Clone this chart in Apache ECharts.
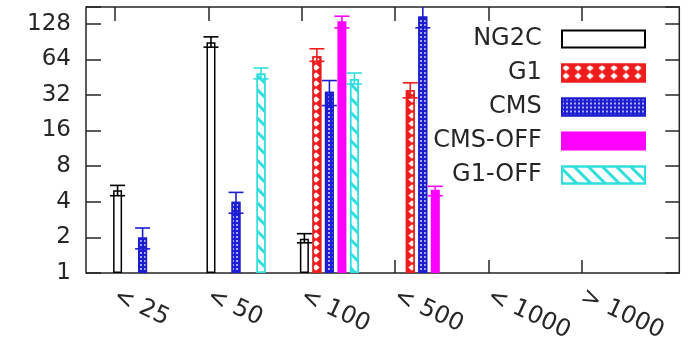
<!DOCTYPE html>
<html>
<head>
<meta charset="utf-8">
<script src="https://cdn.jsdelivr.net/npm/echarts@6/dist/echarts.min.js"></script>
<style>html,body{margin:0;padding:0;background:#fff}#c{width:700px;height:345px}</style>
</head>
<body>
<div id="c"></div>
<script>
// ---- data ----
var categories = ['< 25', '< 50', '< 100', '< 500', '< 1000', '> 1000'];
var seriesNames = ['NG2C', 'G1', 'CMS', 'CMS-OFF', 'G1-OFF'];
var yTicks = [1, 2, 4, 8, 16, 32, 64, 128];

var ng2c   = [5,    89,   1.95, null, null, null];
var ng2cLo = [4.5,  81,   1.8,  null, null, null];
var ng2cHi = [5.5,  99,   2.15, null, null, null];

var g1   = [null, null, 68,   35,   null, null];
var g1Lo = [null, null, 61.5, 30.2, null, null];
var g1Hi = [null, null, 78.5, 40.5, null, null];

var cms   = [2,   4,   34,  147, null, null];
var cmsLo = [1.6, 3.2, 26,  118, null, null];
var cmsHi = [2.4, 4.8, 42.3, 200, null, null];

var cmsOff   = [null, null, 134, 5.05, null, null];
var cmsOffLo = [null, null, 118, 4.5,  null, null];
var cmsOffHi = [null, null, 148, 5.4,  null, null];

var g1Off   = [null, 48.6, 43.5, null, null, null];
var g1OffLo = [null, 43.7, 39.5, null, null, null];
var g1OffHi = [null, 54,   49,   null, null, null];

// ---- styling ----
var Y_MAX = 177;
var BAR_W = 9, BAR_GAP = 0.39;
var SLOT = BAR_W * (1 + BAR_GAP);
var TXT = '#262626';
var colors = ['#000000', '#ee1c1c', '#1c1cd0', '#ff00ff', '#30dede'];

var styles = [
  {color: '#ffffff', borderColor: colors[0], borderWidth: 1.5},
  {color: colors[1], borderColor: colors[1], borderWidth: 1.5,
   decal: {symbol: 'diamond', color: '#ffffff', symbolSize: 0.9, dashArrayX: [8, 4], dashArrayY: [7, 1]}},
  {color: colors[2], borderColor: colors[2], borderWidth: 1.5,
   decal: {symbol: 'circle', color: 'rgba(255,255,255,0.85)', symbolSize: 1, dashArrayX: [2, 2], dashArrayY: [2, 2]}},
  {color: colors[3], borderColor: colors[3], borderWidth: 1.5},
  {color: '#ffffff', borderColor: colors[4], borderWidth: 1.5,
   decal: {symbol: 'rect', color: colors[4], symbolSize: 1, dashArrayX: [1, 0], dashArrayY: [3, 7], rotation: Math.PI / 4}}
];

var values = [ng2c, g1, cms, cmsOff, g1Off];
var lows = [ng2cLo, g1Lo, cmsLo, cmsOffLo, g1OffLo];
var highs = [ng2cHi, g1Hi, cmsHi, cmsOffHi, g1OffHi];

function errData(lo, hi) {
  var out = [];
  for (var i = 0; i < lo.length; i++) if (lo[i] != null) out.push([i, lo[i], hi[i]]);
  return out;
}

var series = [];
seriesNames.forEach(function (name, k) {
  series.push({
    name: name, type: 'bar', xAxisIndex: 3, yAxisIndex: 3,
    barWidth: BAR_W, barGap: (BAR_GAP * 100) + '%',
    itemStyle: styles[k], data: values[k], z: 2,
    emphasis: {disabled: true}
  });
});
seriesNames.forEach(function (name, k) {
  series.push({
    name: name + ' err', type: 'custom', xAxisIndex: 3, yAxisIndex: 3, z: 3,
    data: errData(lows[k], highs[k]),
    renderItem: function (params, api) {
      var i = api.value(0);
      var hiV = api.value(2);
      var pLo = api.coord([i, api.value(1)]);
      var pHi = api.coord([i, Math.min(hiV, Y_MAX)]);
      var x = pLo[0] + (k - 2) * SLOT;
      var cw = 7.5;
      var st = {stroke: colors[k], lineWidth: 1.6};
      var ch = [
        {type: 'line', shape: {x1: x, y1: pLo[1], x2: x, y2: pHi[1]}, style: st},
        {type: 'line', shape: {x1: x - cw, y1: pLo[1], x2: x + cw, y2: pLo[1]}, style: st}
      ];
      if (hiV <= Y_MAX) ch.push({type: 'line', shape: {x1: x - cw, y1: pHi[1], x2: x + cw, y2: pHi[1]}, style: st});
      return {type: 'group', children: ch};
    }
  });
});

var logAxisBase = {type: 'log', logBase: 2, min: yTicks[0], max: Y_MAX};

var option = {
  animation: false,
  backgroundColor: '#ffffff',
  textStyle: {fontFamily: 'DejaVu Sans'},
  grid: [
    {left: 86, right: 20.7, top: 7, bottom: 72, show: true, borderColor: TXT, borderWidth: 1.5, backgroundColor: 'transparent'},
    {left: 115, right: 118, top: 7, bottom: 72},
    {left: 95.9, right: 43.7, top: 7, bottom: 72}
  ],
  xAxis: [
    {gridIndex: 0, type: 'value', min: 0, max: 1, show: false},
    {gridIndex: 1, type: 'value', position: 'bottom', min: 0, max: categories.length - 1, interval: 1,
     axisLine: {show: false}, splitLine: {show: false},
     axisTick: {inside: true, length: 13, lineStyle: {color: TXT, width: 1.5}},
     axisLabel: {rotate: -25, margin: 22, fontSize: 24, color: TXT, fontFamily: 'DejaVu Sans',
                 formatter: function (v) { return categories[Math.round(v)]; }}},
    {gridIndex: 1, type: 'value', position: 'top', min: 0, max: categories.length - 1, interval: 1,
     axisLine: {show: false}, splitLine: {show: false}, axisLabel: {show: false},
     axisTick: {inside: true, length: 14, lineStyle: {color: TXT, width: 1.5}}},
    {gridIndex: 2, type: 'category', data: categories, show: false}
  ],
  yAxis: [
    Object.assign({gridIndex: 0, position: 'left',
     axisLine: {show: false}, splitLine: {show: false},
     axisTick: {inside: true, length: 15, lineStyle: {color: TXT, width: 1.5}},
     axisLabel: {fontSize: 23, color: TXT, margin: 15, fontFamily: 'DejaVu Sans',
       formatter: function (v) { return yTicks.indexOf(Math.round(v)) >= 0 && Math.abs(v - Math.round(v)) < 1e-6 ? String(Math.round(v)) : ''; }}
    }, logAxisBase),
    Object.assign({gridIndex: 0, position: 'right',
     axisLine: {show: false}, splitLine: {show: false}, axisLabel: {show: false},
     axisTick: {inside: true, length: 14, lineStyle: {color: TXT, width: 1.5}}
    }, logAxisBase),
    {gridIndex: 1, type: 'value', show: false},
    Object.assign({gridIndex: 2, show: false}, logAxisBase)
  ],
  legend: {
    data: seriesNames, orient: 'vertical', align: 'right', right: 54, top: 27,
    padding: 0, itemWidth: 83, itemHeight: 17, itemGap: 10, icon: 'rect',
    selectedMode: false,
    formatter: function (n) { return n + '  '; },
    textStyle: {fontSize: 24, color: TXT, fontFamily: 'DejaVu Sans'}
  },
  series: series
};

var chart = echarts.init(document.getElementById('c'), null, {renderer: 'canvas'});
chart.setOption(option);
</script>
</body>
</html>
